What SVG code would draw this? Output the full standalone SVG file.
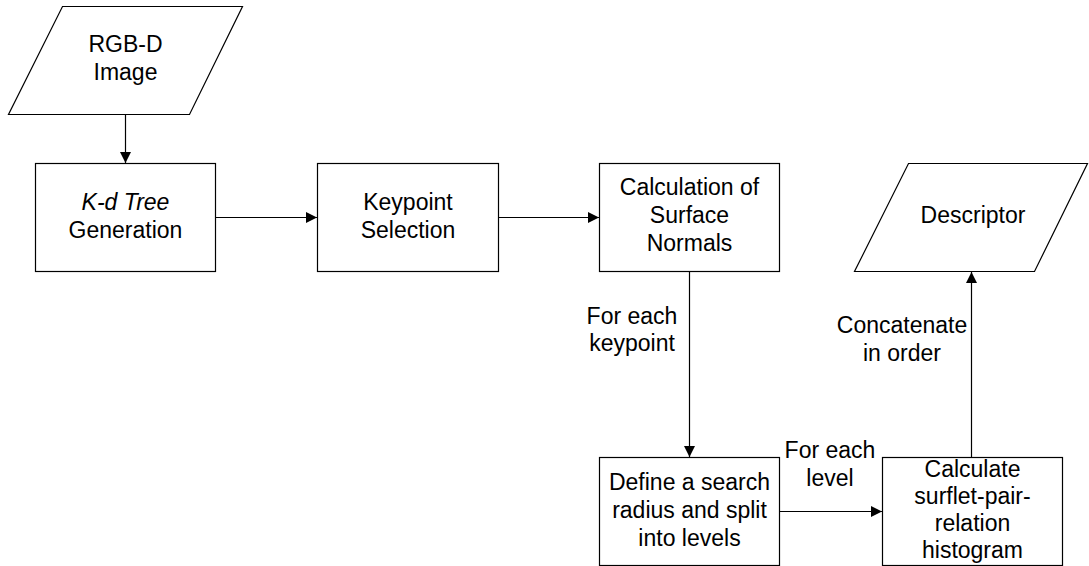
<svg xmlns="http://www.w3.org/2000/svg" width="1089" height="566" viewBox="0 0 1089 566">
<defs>
<marker id="arr" markerUnits="userSpaceOnUse" markerWidth="12" markerHeight="11" refX="11" refY="5.5" orient="auto">
<path d="M0,0 L11,5.5 L0,11 z" fill="#000"/>
</marker>
<style>
.shape{fill:#fff;stroke:#000;stroke-width:1.2}
.t{font-family:"Liberation Sans",Arial,sans-serif;font-size:23px;fill:#000;text-anchor:middle}
.c{fill:none;stroke:#000;stroke-width:1.2;marker-end:url(#arr)}
</style>
</defs>
<rect width="1089" height="566" fill="#fff"/>
<g id="connectors">
<line class="c" x1="125.5" y1="114.5" x2="125.5" y2="163"/>
<line class="c" x1="215.5" y1="217.5" x2="317" y2="217.5"/>
<line class="c" x1="498.5" y1="217.5" x2="599" y2="217.5"/>
<line class="c" x1="689.5" y1="271.5" x2="689.5" y2="457"/>
<line class="c" x1="779.5" y1="511.5" x2="882" y2="511.5"/>
<line class="c" x1="971.5" y1="457" x2="971.5" y2="272"/>
</g>
<g id="rgbd">
<polygon class="shape" points="62.5,6.5 242.5,6.5 189.5,114.5 8.5,114.5"/>
<text class="t" x="125.5" y="52">RGB-D</text>
<text class="t" x="125.5" y="80">Image</text>
</g>
<g id="kdtree">
<rect class="shape" x="35.5" y="163.5" width="180" height="108"/>
<text class="t" x="125.5" y="210" font-style="italic">K-d Tree</text>
<text class="t" x="125.5" y="238">Generation</text>
</g>
<g id="keypoint">
<rect class="shape" x="317.5" y="163.5" width="181" height="108"/>
<text class="t" x="408" y="210">Keypoint</text>
<text class="t" x="408" y="238">Selection</text>
</g>
<g id="normals">
<rect class="shape" x="599.5" y="163.5" width="180" height="108"/>
<text class="t" x="689.5" y="195">Calculation of</text>
<text class="t" x="689.5" y="223">Surface</text>
<text class="t" x="689.5" y="251">Normals</text>
</g>
<g id="descriptor">
<polygon class="shape" points="908.5,163.5 1087.5,163.5 1034.5,271.5 854.5,271.5"/>
<text class="t" x="973" y="223">Descriptor</text>
</g>
<g id="define">
<rect class="shape" x="599.5" y="457.5" width="180" height="108"/>
<text class="t" x="689.5" y="490">Define a search</text>
<text class="t" x="689.5" y="518">radius and split</text>
<text class="t" x="689.5" y="546">into levels</text>
</g>
<g id="histogram">
<rect class="shape" x="882.5" y="457.5" width="180" height="108"/>
<text class="t" x="972.5" y="477">Calculate</text>
<text class="t" x="972.5" y="504">surflet-pair-</text>
<text class="t" x="972.5" y="531">relation</text>
<text class="t" x="972.5" y="558">histogram</text>
</g>
<g id="labels">
<text class="t" x="632" y="324">For each</text>
<text class="t" x="632" y="351">keypoint</text>
<text class="t" x="902" y="333">Concatenate</text>
<text class="t" x="902" y="361">in order</text>
<text class="t" x="830" y="458">For each</text>
<text class="t" x="830" y="486">level</text>
</g>
</svg>
